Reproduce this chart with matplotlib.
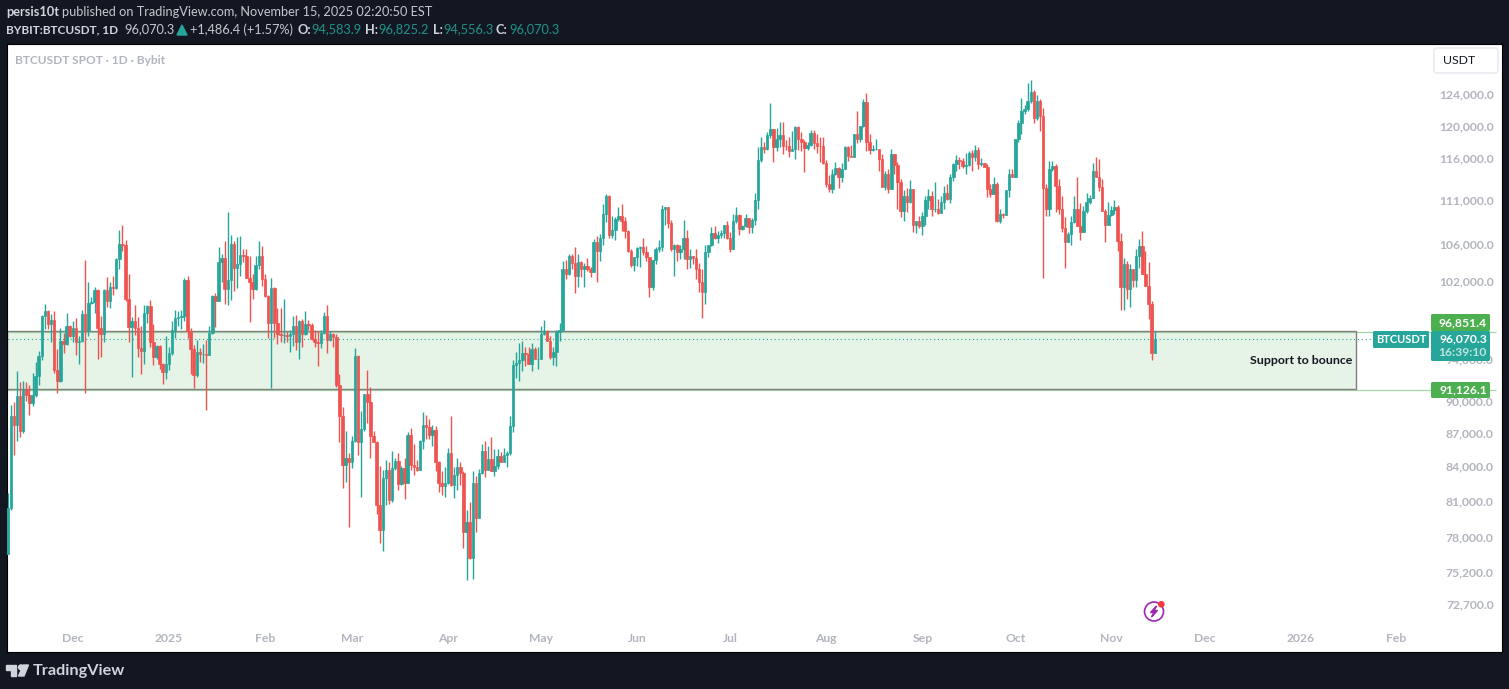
import matplotlib
matplotlib.use("Agg")
import matplotlib.dates as mdates
import matplotlib.pyplot as plt
import numpy as np
import pandas as pd
from matplotlib.patches import Circle, FancyBboxPatch, Polygon, Rectangle
from matplotlib.ticker import FuncFormatter, NullLocator
from matplotlib.transforms import ScaledTranslation

plt.rcParams["font.family"] = ["Lato", "DejaVu Sans"]

# daily candles in thousands of USDT, the open of a day is the close of the day before
FIRST_OPEN = 76.7
CLOSE = [
    80.5, 88.6, 87.8, 90.5, 87.2, 91.0, 90.6, 89.8, 90.6, 92.4,
    94.3, 98.4, 98.9, 97.6, 98.0, 93.0, 91.9, 95.8, 95.5, 97.4,
    96.3, 97.2, 95.7, 95.8, 98.6, 96.8, 99.7, 99.8, 101.1, 97.2,
    96.5, 101.1, 99.9, 101.4, 101.3, 104.4, 106.1, 106.0, 100.1, 97.3,
    97.9, 97.2, 95.1, 94.8, 98.7, 99.4, 95.7, 94.2, 95.3, 93.6,
    92.8, 93.6, 94.6, 97.0, 98.2, 98.3, 98.4, 102.2, 96.8, 95.0,
    92.5, 94.7, 94.5, 94.5, 94.4, 96.6, 100.5, 99.9, 104.1, 104.5,
    101.2, 102.2, 106.1, 103.5, 103.9, 104.9, 104.8, 102.4, 101.9, 101.2,
    103.8, 104.8, 102.3, 100.5, 97.7, 101.3, 97.7, 96.5, 96.4, 96.4,
    96.3, 96.5, 97.4, 95.7, 97.9, 96.5, 97.6, 97.5, 96.0, 95.7,
    95.6, 96.6, 98.4, 95.9, 96.5, 96.2, 91.5, 88.6, 84.2, 84.8,
    84.4, 86.3, 94.3, 86.2, 87.4, 90.7, 89.9, 86.8, 86.2, 80.7,
    78.6, 83.0, 83.7, 81.1, 83.9, 84.5, 82.5, 83.9, 82.6, 86.9,
    84.2, 84.0, 83.7, 86.3, 87.8, 87.6, 86.9, 87.3, 84.4, 82.6,
    82.3, 82.6, 85.2, 82.4, 83.3, 84.0, 83.5, 78.5, 79.3, 76.4,
    82.6, 79.6, 83.5, 85.4, 83.7, 84.7, 83.6, 84.1, 85.0, 84.4,
    85.1, 85.2, 87.7, 93.5, 93.7, 94.0, 94.6, 94.5, 93.6, 95.0,
    94.1, 94.1, 96.5, 96.9, 95.8, 94.2, 94.7, 96.7, 97.0, 103.4,
    102.8, 104.8, 104.0, 102.6, 104.1, 103.3, 103.7, 103.3, 103.0, 106.3,
    105.3, 106.8, 109.5, 111.5, 107.1, 107.7, 108.9, 109.3, 108.7, 107.5,
    105.3, 103.8, 104.6, 105.6, 105.8, 105.2, 104.6, 101.4, 104.3, 105.5,
    105.7, 110.1, 110.3, 108.4, 105.5, 106.0, 105.2, 105.5, 106.8, 104.4,
    104.8, 104.5, 103.3, 102.0, 100.9, 105.2, 106.0, 107.3, 106.8, 107.1,
    107.3, 108.2, 106.8, 105.5, 108.7, 109.4, 107.8, 108.1, 109.0, 108.0,
    108.8, 111.1, 115.9, 117.4, 117.2, 118.9, 119.7, 117.4, 118.4, 118.9,
    117.6, 117.5, 116.9, 117.2, 119.9, 118.4, 118.1, 117.3, 117.7, 119.2,
    117.9, 117.6, 117.5, 115.5, 113.0, 112.4, 114.1, 114.9, 113.8, 114.8,
    117.4, 116.3, 116.2, 119.1, 118.4, 120.0, 123.1, 118.0, 117.1, 117.2,
    117.2, 116.0, 112.6, 114.1, 112.4, 116.6, 115.2, 113.2, 109.8, 111.5,
    110.9, 112.4, 108.2, 108.7, 108.1, 109.2, 111.1, 111.5, 110.0, 110.0,
    109.6, 110.9, 111.9, 111.2, 113.8, 115.4, 115.9, 115.7, 115.1, 115.2,
    116.7, 116.2, 117.0, 115.4, 115.5, 115.0, 112.4, 111.8, 113.0, 108.7,
    109.5, 109.4, 112.2, 114.2, 113.8, 118.4, 120.4, 121.9, 122.2, 123.2,
    124.4, 121.1, 123.2, 121.3, 112.5, 110.0, 114.8, 115.1, 112.7, 110.1,
    107.9, 106.3, 107.2, 108.6, 110.0, 108.1, 107.4, 109.8, 110.8, 111.3,
    114.5, 113.8, 112.6, 109.8, 108.2, 109.4, 109.9, 110.3, 106.4, 101.4,
    103.9, 101.2, 103.3, 102.2, 104.8, 105.9, 102.8, 101.5, 99.6, 94.6, 96.07,
]
HIGH = [
    81.7, 89.6, 89.9, 92.9, 91.8, 91.9, 91.8, 91.5, 92.7, 93.8,
    94.8, 98.5, 99.6, 99.0, 98.6, 98.9, 95.0, 97.2, 96.6, 98.7,
    97.5, 97.9, 98.2, 96.3, 99.0, 104.3, 101.9, 100.4, 101.4, 101.2,
    98.4, 101.2, 102.5, 101.9, 102.6, 104.5, 107.7, 108.2, 106.5, 102.8,
    98.3, 99.5, 98.3, 97.4, 99.5, 99.5, 100.0, 97.6, 95.4, 95.4,
    93.7, 96.3, 95.2, 97.9, 99.0, 98.9, 99.0, 102.4, 102.6, 97.2,
    95.4, 95.9, 95.1, 95.5, 95.9, 97.4, 100.6, 100.8, 105.8, 105.0,
    106.4, 109.7, 107.1, 106.4, 106.9, 107.0, 105.5, 105.5, 104.8, 102.8,
    104.8, 106.4, 105.9, 102.8, 100.6, 102.4, 101.4, 99.2, 99.2, 100.1,
    96.9, 97.0, 98.4, 98.5, 98.0, 98.1, 98.9, 98.0, 97.7, 97.0,
    96.8, 97.0, 98.8, 99.5, 96.8, 96.6, 96.5, 92.6, 89.4, 87.2,
    85.2, 86.8, 95.1, 94.4, 89.1, 90.7, 93.0, 91.3, 87.2, 86.3,
    84.1, 83.7, 84.6, 84.4, 85.4, 84.8, 85.2, 84.1, 84.8, 87.1,
    87.5, 86.0, 84.6, 86.4, 89.0, 88.7, 88.3, 87.8, 87.7, 84.5,
    83.6, 84.0, 85.7, 88.6, 84.0, 84.8, 84.4, 83.6, 80.3, 81.0,
    83.6, 83.2, 83.8, 86.0, 86.3, 85.9, 86.7, 85.6, 85.6, 85.3,
    85.7, 85.4, 88.6, 94.0, 94.7, 95.6, 95.8, 95.2, 95.2, 95.6,
    95.2, 95.2, 97.4, 98.0, 97.0, 96.3, 95.2, 97.0, 97.7, 104.2,
    104.3, 105.0, 105.0, 105.8, 105.0, 104.2, 104.0, 104.5, 103.6, 106.6,
    107.0, 107.2, 110.6, 111.8, 111.7, 109.3, 109.1, 110.3, 110.6, 109.1,
    107.7, 105.5, 104.6, 105.8, 105.9, 106.7, 105.9, 104.6, 104.3, 105.8,
    106.5, 110.5, 110.3, 110.3, 108.8, 106.1, 106.1, 106.0, 108.8, 107.7,
    105.5, 104.8, 105.5, 104.0, 103.3, 106.0, 106.0, 108.0, 108.1, 107.5,
    107.6, 108.2, 108.7, 107.4, 109.5, 110.3, 109.5, 108.2, 109.5, 109.0,
    109.0, 111.9, 117.4, 118.7, 118.0, 119.3, 123.0, 119.7, 119.8, 120.6,
    120.5, 118.3, 118.7, 119.4, 120.1, 120.0, 119.3, 118.3, 118.1, 119.6,
    119.5, 119.1, 118.7, 118.7, 115.9, 114.0, 114.7, 115.6, 115.0, 115.5,
    117.5, 117.5, 117.7, 119.1, 122.0, 120.1, 123.5, 124.2, 119.0, 117.7,
    118.4, 117.2, 116.6, 114.5, 114.7, 117.2, 116.6, 115.6, 113.5, 112.3,
    112.5, 113.4, 112.4, 108.7, 109.3, 109.7, 111.5, 112.4, 112.1, 113.2,
    111.2, 111.5, 112.7, 113.0, 114.2, 115.5, 116.5, 116.2, 116.1, 116.7,
    116.9, 117.0, 117.7, 117.4, 116.1, 115.5, 115.4, 113.0, 113.8, 113.2,
    110.1, 109.6, 112.2, 114.7, 114.7, 118.4, 120.8, 123.6, 122.7, 125.6,
    126.0, 124.6, 124.0, 123.5, 122.3, 113.0, 115.7, 115.7, 115.4, 113.5,
    111.6, 109.1, 107.4, 109.3, 111.5, 113.8, 110.7, 110.4, 111.9, 111.7,
    115.5, 116.2, 116.0, 113.5, 110.0, 110.9, 110.4, 111.1, 110.5, 107.3,
    104.5, 104.2, 103.9, 103.4, 105.5, 106.6, 107.5, 105.3, 104.1, 99.9, 96.8,
]
LOW = [
    76.7, 80.3, 85.1, 86.3, 86.7, 87.0, 90.0, 88.7, 89.5, 90.4,
    91.5, 94.0, 97.1, 97.1, 95.7, 92.7, 90.8, 91.8, 94.6, 95.4,
    96.2, 95.7, 94.4, 93.6, 95.7, 90.8, 96.3, 99.6, 98.7, 94.1,
    94.2, 95.7, 99.3, 99.2, 100.6, 101.2, 103.3, 105.3, 99.9, 95.7,
    92.3, 96.4, 94.2, 92.6, 93.6, 97.7, 95.2, 93.5, 94.1, 93.1,
    91.6, 92.1, 93.0, 94.4, 96.1, 97.4, 97.1, 97.9, 96.1, 92.6,
    91.2, 92.3, 93.8, 93.7, 89.2, 94.4, 96.5, 97.3, 99.9, 102.0,
    99.6, 99.5, 100.0, 101.0, 101.3, 102.6, 104.1, 102.4, 97.8, 100.2,
    101.1, 103.3, 101.5, 100.4, 96.1, 91.2, 96.1, 95.5, 95.7, 95.6,
    95.7, 94.7, 95.3, 94.9, 94.1, 95.2, 96.4, 97.0, 95.9, 95.2,
    93.4, 95.1, 96.5, 94.6, 95.8, 95.2, 91.3, 86.2, 82.2, 82.7,
    78.9, 83.9, 86.2, 85.1, 81.4, 87.2, 88.0, 84.8, 86.2, 80.0,
    77.6, 76.9, 80.7, 80.8, 81.0, 83.7, 82.0, 82.4, 81.2, 82.6,
    83.7, 83.3, 83.6, 83.7, 85.6, 86.5, 86.5, 85.9, 83.6, 81.8,
    81.6, 81.4, 82.5, 82.3, 81.3, 82.0, 82.4, 77.2, 74.6, 76.3,
    74.7, 78.5, 79.6, 83.4, 83.1, 83.7, 83.6, 83.2, 83.8, 84.4,
    84.4, 84.0, 85.1, 87.1, 92.2, 91.9, 92.9, 93.4, 93.6, 92.9,
    94.1, 93.1, 94.1, 96.4, 95.8, 94.1, 93.5, 93.4, 95.8, 97.0,
    102.3, 102.7, 103.3, 100.8, 101.4, 102.5, 101.4, 103.1, 102.5, 103.0,
    102.0, 104.2, 106.0, 108.6, 106.7, 106.7, 106.5, 108.7, 107.5, 106.7,
    105.2, 103.6, 103.1, 103.7, 103.6, 104.9, 104.2, 100.4, 101.1, 103.9,
    105.2, 105.3, 108.2, 107.9, 105.3, 102.6, 104.2, 104.4, 104.4, 103.3,
    103.5, 103.9, 102.3, 100.9, 98.2, 99.6, 104.6, 105.9, 106.6, 106.2,
    106.8, 106.7, 106.6, 105.2, 105.5, 108.4, 107.1, 107.7, 108.0, 107.3,
    107.3, 108.2, 110.0, 115.6, 116.7, 117.1, 118.6, 115.6, 116.9, 117.4,
    116.6, 117.1, 116.2, 116.9, 116.0, 117.1, 116.9, 114.4, 117.1, 117.6,
    117.2, 116.7, 115.6, 115.3, 112.6, 112.0, 111.9, 114.0, 112.5, 113.2,
    114.7, 115.7, 116.2, 116.2, 117.9, 118.1, 119.9, 116.9, 116.6, 116.9,
    117.1, 114.5, 112.6, 112.2, 111.9, 112.4, 114.1, 110.0, 109.1, 108.7,
    109.7, 110.7, 107.4, 107.3, 107.9, 107.1, 108.2, 110.0, 109.2, 109.7,
    109.5, 109.6, 110.1, 111.1, 110.7, 113.3, 114.5, 114.8, 114.9, 114.2,
    115.1, 114.5, 115.7, 114.8, 115.1, 115.0, 111.4, 111.4, 111.8, 108.6,
    108.5, 109.0, 109.4, 111.4, 113.8, 113.8, 118.0, 119.0, 121.6, 122.0,
    123.0, 120.4, 120.8, 119.4, 102.4, 109.3, 109.3, 114.5, 109.7, 109.5,
    107.4, 103.5, 106.3, 106.0, 108.5, 108.1, 106.5, 107.4, 109.6, 110.6,
    111.3, 113.8, 112.1, 109.8, 106.3, 108.2, 109.3, 109.5, 105.3, 99.0,
    99.0, 100.2, 99.3, 101.4, 101.4, 103.5, 102.8, 101.5, 98.1, 94.0, 94.6,
]

FIRST_DAY = "2024-11-10"
ZONE_TOP = 96851.4
ZONE_BOTTOM = 91126.1
ZONE_END = "2026-01-19"
LAST_PRICE = 96070.3
PRICE_TICKS = [124000, 120000, 116000, 111000, 106000, 102000, 94000, 90000,
               87000, 84000, 81000, 78000, 75200, 72700]
MONTH_DATES = ["2024-12-01", "2025-01-01", "2025-02-01", "2025-03-01", "2025-04-01",
               "2025-05-01", "2025-06-01", "2025-07-01", "2025-08-01", "2025-09-01",
               "2025-10-01", "2025-11-01", "2025-12-01", "2026-01-01", "2026-02-01"]
MONTH_LABELS = ["Dec", "2025", "Feb", "Mar", "Apr", "May", "Jun", "Jul", "Aug", "Sep",
                "Oct", "Nov", "Dec", "2026", "Feb"]

UP = "#26a69a"
DOWN = "#ef5350"
BG = "#131722"
AXIS_TEXT = "#b2b5be"
FS = 9.2
FS_BOLD = 8.7


def draw_candles(ax):
    days = mdates.date2num(pd.date_range(FIRST_DAY, periods=len(CLOSE)))
    close = np.array(CLOSE) * 1000
    high = np.array(HIGH) * 1000
    low = np.array(LOW) * 1000
    opens = np.concatenate([[FIRST_OPEN * 1000], close[:-1]])
    colors = [UP if c >= o else DOWN for o, c in zip(opens, close)]
    ax.vlines(days, low, high, colors=colors, linewidth=1.0, zorder=3)
    bottoms = np.minimum(opens, close)
    heights = np.abs(close - opens)
    ax.bar(days, heights, width=0.8, bottom=bottoms, color=colors, edgecolor=colors,
           linewidth=0.5, zorder=4)
    return days


def draw_zone(ax, days):
    x0 = days[0] - 0.3
    x1 = mdates.date2num(pd.Timestamp(ZONE_END))
    x_scale = mdates.date2num(pd.Timestamp("2026-03-05"))
    ax.add_patch(Rectangle((x0, ZONE_BOTTOM), x1 - x0, ZONE_TOP - ZONE_BOTTOM,
                           facecolor="#e6f3e7", edgecolor="none", zorder=2))
    for level in (ZONE_TOP * 0.9988, ZONE_BOTTOM * 0.9988):
        ax.hlines(level, x0, x_scale, colors="#a5d6a7", linewidth=0.9, zorder=2.1)
    ax.add_patch(Rectangle((x0, ZONE_BOTTOM), x1 - x0, ZONE_TOP - ZONE_BOTTOM,
                           fill=False, edgecolor="#808080", linewidth=1.0, zorder=2.2))
    ax.hlines(LAST_PRICE, days[0], mdates.date2num(pd.Timestamp("2026-02-01")) - 8,
              colors=UP, linewidth=0.8, linestyles=(0, (1, 2.5)), zorder=2.5)
    ax.text(x1 - 1.3, 93900, "Support to bounce", ha="right", va="center",
            fontsize=8.9, fontweight="bold", color="#131722", zorder=5)


def draw_header(ui):
    ui.text(6, 12, "persis10t", fontsize=FS, fontweight="bold", color="#d1d4dc", va="center")
    ui.text(62, 12, "published on TradingView.com, November 15, 2025 02:20:50 EST",
            fontsize=FS, color="#c4c7cf", va="center")
    green = "#1f9488"
    ui.text(6, 29.5, "BYBIT:BTCUSDT, 1D", fontsize=8.5, fontweight="bold", color="#d1d4dc",
            va="center")
    parts = [
        (124, "96,070.3", "#c4c7cf", "normal"),
        (190, "+1,486.4 (+1.57%)", "#c4c7cf", "normal"),
        (297, "O:", "#d1d4dc", "bold"),
        (311, "94,583.9", green, "normal"),
        (365, "H:", "#d1d4dc", "bold"),
        (378, "96,825.2", green, "normal"),
        (433, "L:", "#d1d4dc", "bold"),
        (443, "94,556.3", green, "normal"),
        (496, "C:", "#d1d4dc", "bold"),
        (509, "96,070.3", green, "normal"),
    ]
    for x, label, color, weight in parts:
        ui.text(x, 29.5, label, fontsize=FS, fontweight=weight, color=color, va="center")
    ui.add_patch(Polygon([(177, 35), (187, 35), (182, 25)], color=UP))


def draw_badges(ui):
    ui.text(15, 60.5, "BTCUSDT SPOT · 1D · Bybit", fontsize=8.6, color="#b2b5be", va="center",
            fontweight="bold")
    ui.add_patch(FancyBboxPatch((1434, 48), 64, 25, boxstyle="round,pad=0,rounding_size=3",
                                facecolor="white", edgecolor="#e6e8ee", linewidth=1))
    ui.text(1443, 61, "USDT", fontsize=8.8, color="#131722", va="center")

    ui.add_patch(FancyBboxPatch((1431, 314), 59, 17, boxstyle="round,pad=0,rounding_size=1.5",
                                color="#4caf50", linewidth=0))
    ui.text(1487, 322.5, "96,851.4", fontsize=FS_BOLD, color="white", ha="right", va="center",
            fontweight="bold")
    ui.add_patch(FancyBboxPatch((1431, 331), 59, 30, boxstyle="round,pad=0,rounding_size=1.5",
                                color=UP, linewidth=0))
    ui.text(1487, 338.5, "96,070.3", fontsize=FS_BOLD, color="white", ha="right", va="center",
            fontweight="bold")
    ui.text(1487, 353, "16:39:10", fontsize=FS_BOLD, color="#bfe4e0", ha="right", va="center",
            fontweight="bold")
    ui.add_patch(FancyBboxPatch((1373, 331), 56, 17, boxstyle="round,pad=0,rounding_size=1.5",
                                color=UP, linewidth=0))
    ui.text(1401, 339.5, "BTCUSDT", fontsize=8, color="white", ha="center", va="center",
            fontweight="bold")
    ui.add_patch(FancyBboxPatch((1431, 382), 59, 16, boxstyle="round,pad=0,rounding_size=1.5",
                                color="#4caf50", linewidth=0))
    ui.text(1487, 390, "91,126.1", fontsize=FS_BOLD, color="white", ha="right", va="center",
            fontweight="bold")


def draw_icons(ui):
    ui.add_patch(Circle((1154, 611.5), 9.5, fill=False, edgecolor="#9c27b0", linewidth=1.2))
    ui.add_patch(Polygon([(1156.5, 606), (1150.5, 612.5), (1154, 612.5), (1151.5, 617),
                          (1157.5, 610.5), (1154, 610.5)], color="#9c27b0"))
    ui.add_patch(Circle((1161.3, 604.3), 2.6, color="#f23645"))

    # TradingView mark and wordmark
    logo = "#d1d4dc"
    ui.add_patch(Polygon([(6, 665), (16, 665), (16, 676), (10.5, 676), (10.5, 669.5), (6, 669.5)],
                         color=logo))
    ui.add_patch(Circle((21, 667.3), 2.4, color=logo))
    ui.add_patch(Polygon([(23.5, 665), (28.5, 665), (24, 676), (18.5, 676)], color=logo))
    ui.text(33, 670.5, "TradingView", fontsize=11.7, fontweight="bold", color=logo, va="center")


def main():
    fig = plt.figure(figsize=(15.09, 6.89), dpi=100, facecolor=BG)
    left, right, top, bottom = 7, 1502, 44, 652
    ax = fig.add_axes([left / 1509, 1 - bottom / 689, (right - left) / 1509, (bottom - top) / 689])
    ax.set_facecolor("white")

    days = draw_candles(ax)
    draw_zone(ax, days)

    ax.set_xlim(days[0] - 0.23, days[0] + 482)
    ax.set_yscale("log")
    ax.set_ylim(124000 * np.exp(-557 / 955), 124000 * np.exp(51 / 955))

    ax.yaxis.tick_right()
    ax.yaxis.set_minor_locator(NullLocator())
    ax.set_yticks(PRICE_TICKS)
    ax.yaxis.set_major_formatter(FuncFormatter(lambda v, _: f"{v:,.1f}"))
    ax.tick_params(axis="y", length=0, pad=-6, labelsize=8.7, labelcolor=AXIS_TEXT)
    nudge = ScaledTranslation(0, 0.7 / 100, fig.dpi_scale_trans)
    for label in ax.get_yticklabels():
        label.set_ha("right")
        label.set_fontweight("bold")
        label.set_transform(label.get_transform() + nudge)

    ax.set_xticks(mdates.date2num(pd.to_datetime(MONTH_DATES)))
    ax.set_xticklabels(MONTH_LABELS)
    ax.tick_params(axis="x", length=0, pad=-14, labelsize=8.7, labelcolor=AXIS_TEXT)
    for label in ax.get_xticklabels():
        label.set_fontweight("bold")

    for spine in ax.spines.values():
        spine.set_color("black")
        spine.set_linewidth(0.8)

    ui = fig.add_axes([0, 0, 1, 1], facecolor="none")
    ui.set_xlim(0, 1509)
    ui.set_ylim(689, 0)
    ui.axis("off")
    draw_header(ui)
    draw_badges(ui)
    draw_icons(ui)

    fig.savefig("out.png", dpi=100, facecolor=BG)
    plt.close(fig)


if __name__ == "__main__":
    main()
